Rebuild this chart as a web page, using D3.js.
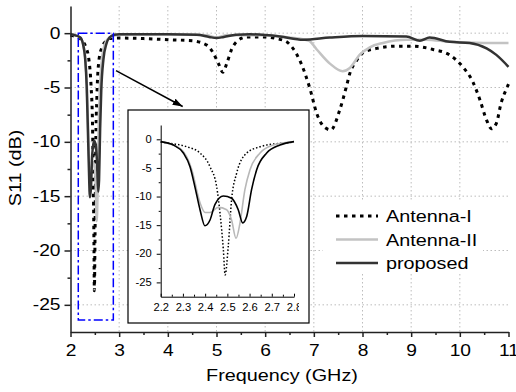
<!DOCTYPE html>
<html>
<head>
<meta charset="utf-8">
<script src="https://cdn.jsdelivr.net/npm/d3@7"></script>
<style>
  body { margin: 0; background: #fff; }
  svg text { font-family: "Liberation Sans", Arial, sans-serif; fill: #000; }
  .sx { transform-box: fill-box; transform: scaleX(1.2); }
  .sxi { transform-box: fill-box; transform: scaleX(1.12); }
</style>
</head>
<body>
<svg id="chart" width="516" height="392"></svg>
<script>
// [frequency GHz, S11 dB]
const antennaI = [
  [2.0, -0.2], [2.1, -0.3], [2.2, -0.5], [2.26, -0.8], [2.317, -1.3], [2.377, -2.4],
  [2.422, -4.8], [2.452, -8.3], [2.467, -12.9], [2.482, -19.3], [2.49, -23.7],
  [2.504, -18.7], [2.519, -10.6], [2.542, -5.9], [2.587, -2.4], [2.647, -1.3],
  [2.737, -0.7], [2.8, -0.5], [3.0, -0.45], [3.5, -0.5], [4.0, -0.6], [4.5, -0.7],
  [4.8, -1.1], [4.93, -1.8], [5.04, -2.8], [5.13, -3.6], [5.21, -2.8], [5.31, -1.5],
  [5.41, -0.8], [5.62, -0.35], [6.0, -0.35], [6.23, -0.5], [6.44, -0.8], [6.71, -2.5],
  [6.92, -5.1], [7.06, -7.4], [7.23, -8.7], [7.35, -8.9], [7.53, -7.1], [7.67, -4.9],
  [7.74, -3.7], [7.88, -2.5], [8.01, -1.8], [8.29, -1.4], [8.7, -1.2], [9.04, -1.2],
  [9.45, -1.5], [9.79, -2.0], [10.06, -3.1], [10.27, -4.5], [10.41, -6.1], [10.55, -8.0],
  [10.65, -8.8], [10.75, -8.3], [10.85, -6.4], [10.96, -5.1], [11.0, -4.7]
];
const antennaII = [
  [2.0, -0.1], [2.1, -0.2], [2.2, -0.4], [2.287, -1.6], [2.34, -5.3], [2.377, -11.1],
  [2.4, -12.8], [2.422, -12.8], [2.459, -11.9], [2.497, -12.3], [2.519, -14.1],
  [2.539, -17.3], [2.557, -14.6], [2.579, -8.8], [2.602, -5.3], [2.647, -2.4],
  [2.707, -1.0], [2.8, -0.4], [3.0, -0.15], [4.0, -0.1], [4.8, -0.2], [5.0, -0.4],
  [5.2, -0.2], [6.0, -0.2], [6.5, -0.4], [6.9, -0.7], [7.06, -1.5], [7.33, -2.8],
  [7.59, -3.5], [7.74, -3.2], [7.94, -2.0], [8.15, -1.3], [8.42, -0.9], [8.9, -0.6],
  [9.3, -0.6], [9.8, -0.8], [10.5, -0.9], [11.0, -0.9]
];
const proposed = [
  [2.0, -0.1], [2.1, -0.2], [2.2, -0.4], [2.257, -1.0], [2.302, -2.4], [2.332, -4.8],
  [2.354, -8.3], [2.377, -12.3], [2.399, -15.1], [2.422, -14.1], [2.444, -11.4],
  [2.482, -9.9], [2.519, -10.3], [2.549, -12.3], [2.569, -14.6], [2.587, -13.5],
  [2.609, -8.8], [2.632, -5.3], [2.677, -2.4], [2.737, -1.0], [2.8, -0.4], [2.9, -0.15],
  [3.0, -0.1], [4.0, -0.1], [4.6, -0.15], [4.85, -0.35], [5.0, -0.45], [5.15, -0.35],
  [5.4, -0.15], [5.69, -0.1], [6.3, -0.3], [6.78, -0.6], [7.33, -0.4], [8.0, -0.25],
  [8.9, -0.3], [9.18, -0.7], [9.38, -0.4], [9.79, -0.8], [10.2, -0.9], [10.55, -1.4],
  [10.75, -2.0], [11.0, -3.1]
];
const seriesNames = ['Antenna-I', 'Antenna-II', 'proposed'];
const xTicks = [2, 3, 4, 5, 6, 7, 8, 9, 10, 11];
const yTicks = [0, -5, -10, -15, -20, -25];
const insetXTicks = [2.2, 2.3, 2.4, 2.5, 2.6, 2.7, 2.8];
const zoomBand = [2.16, 2.88, 0, -26.4];      // blue box, GHz / dB
const arrowPts = [[2.935, -3.44], [4.305, -6.75]];

const svg = d3.select('#chart');

const x = d3.scaleLinear().domain([2, 11]).range([70.5, 508.5]);
const y = d3.scaleLinear().domain([-27.5, 2.5]).range([332, 6]);

const styles = [
  { stroke: '#000', width: 3, dash: '3.5,4.5' },
  { stroke: '#c3c3c3', width: 2.5, dash: null },
  { stroke: '#333', width: 2.5, dash: null }
];
const series = [antennaI, antennaII, proposed];

// grid
svg.append('g').selectAll('line').data(xTicks.filter(v => v > 2 && v < 11)).enter()
  .append('line')
  .attr('x1', d => x(d)).attr('x2', d => x(d))
  .attr('y1', y(2.5)).attr('y2', y(-27.5))
  .attr('stroke', '#bdbdbd').attr('stroke-dasharray', '1.5,2.5');
svg.append('g').selectAll('line').data(yTicks).enter()
  .append('line')
  .attr('x1', x(2)).attr('x2', x(11))
  .attr('y1', d => y(d)).attr('y2', d => y(d))
  .attr('stroke', '#bdbdbd').attr('stroke-dasharray', '1.5,2.5');

const line = d3.line().x(d => x(d[0])).y(d => y(d[1])).curve(d3.curveMonotoneX);
series.forEach((s, i) => {
  svg.append('path')
    .attr('d', line(s))
    .attr('fill', 'none')
    .attr('stroke', styles[i].stroke)
    .attr('stroke-width', styles[i].width)
    .attr('stroke-dasharray', styles[i].dash);
});

// blue zoom box
svg.append('rect')
  .attr('x', x(zoomBand[0])).attr('y', y(zoomBand[2]))
  .attr('width', x(zoomBand[1]) - x(zoomBand[0]))
  .attr('height', y(zoomBand[3]) - y(zoomBand[2]))
  .attr('fill', 'none').attr('stroke', '#0000ff').attr('stroke-width', 1.5)
  .attr('stroke-dasharray', '9,3,2.5,3');

// axes
function styleAxis(g, origin) {
  g.select('.domain').attr('stroke', '#222').attr('stroke-width', 1.5);
  g.selectAll('.tick line').attr('stroke', '#222').attr('stroke-width', 1.5);
  g.selectAll('text').attr('font-size', 16).attr('font-family', null)
    .attr('class', 'sx').style('transform-origin', origin);
}
const gx = svg.append('g').attr('transform', 'translate(0,332)')
  .call(d3.axisBottom(x).tickValues(xTicks).tickSize(5).tickSizeOuter(0)
    .tickPadding(8).tickFormat(d => String(d)));
styleAxis(gx, '50% 50%');
const gxm = svg.append('g').attr('transform', 'translate(0,332)')
  .call(d3.axisBottom(x).tickValues(d3.range(2.5, 11, 1)).tickSize(3).tickFormat(''));
gxm.select('.domain').remove();
gxm.selectAll('.tick line').attr('stroke', '#222').attr('stroke-width', 1.5);

const gy = svg.append('g').attr('transform', 'translate(70.5,0)')
  .call(d3.axisLeft(y).tickValues(yTicks).tickSize(6).tickSizeOuter(0)
    .tickPadding(4).tickFormat(d => String(d)));
styleAxis(gy, '100% 50%');
const gym = svg.append('g').attr('transform', 'translate(70.5,0)')
  .call(d3.axisLeft(y).tickValues(d3.range(-2.5, -25, -5)).tickSize(3).tickFormat(''));
gym.select('.domain').remove();
gym.selectAll('.tick line').attr('stroke', '#222').attr('stroke-width', 1.5);

svg.append('text').attr('class', 'sx').style('transform-origin', '50% 50%')
  .attr('x', 282).attr('y', 381).attr('text-anchor', 'middle')
  .attr('font-size', 16.5).text('Frequency (GHz)');
svg.append('text')
  .attr('transform', 'translate(21,168) rotate(-90) scale(1.2,1)')
  .attr('text-anchor', 'middle').attr('font-size', 16.5).text('S11 (dB)');

// legend
svg.append('rect').attr('x', 323).attr('y', 202).attr('width', 160).attr('height', 72)
  .attr('fill', '#fff');
const leg = svg.append('g').selectAll('g').data(seriesNames).enter().append('g')
  .attr('transform', (d, i) => `translate(336,${216 + i * 23.5})`);
leg.append('line').attr('x1', 0).attr('x2', 42)
  .attr('stroke', (d, i) => styles[i].stroke)
  .attr('stroke-width', (d, i) => styles[i].width)
  .attr('stroke-dasharray', (d, i) => styles[i].dash);
leg.append('text').attr('class', 'sx').style('transform-origin', '0% 50%')
  .attr('x', 50).attr('y', 6).attr('font-size', 16.5).text(d => d);

// arrow
const defs = svg.append('defs');
defs.append('marker').attr('id', 'arr').attr('viewBox', '0 0 10 7')
  .attr('refX', 10).attr('refY', 3.5).attr('markerWidth', 10).attr('markerHeight', 7)
  .attr('markerUnits', 'userSpaceOnUse').attr('orient', 'auto')
  .append('path').attr('d', 'M0,0L10,3.5L0,7Z').attr('fill', '#000');
svg.append('line')
  .attr('x1', x(arrowPts[0][0])).attr('y1', y(arrowPts[0][1]))
  .attr('x2', x(arrowPts[1][0])).attr('y2', y(arrowPts[1][1]))
  .attr('stroke', '#000').attr('stroke-width', 1.5).attr('marker-end', 'url(#arr)');

// inset
svg.append('rect').attr('x', 128).attr('y', 110).attr('width', 181).attr('height', 213)
  .attr('fill', '#fff').attr('stroke', '#000').attr('stroke-width', 1.2);
defs.append('clipPath').attr('id', 'insetClip')
  .append('rect').attr('x', 128).attr('y', 110).attr('width', 171).attr('height', 213);

const ix = d3.scaleLinear().domain([2.2, 2.8]).range([160.7, 294]);
const iy = d3.scaleLinear().domain([-27.5, 2.5]).range([296.7, 125]);
const iline = d3.line().x(d => ix(d[0])).y(d => iy(d[1])).curve(d3.curveMonotoneX);
const istyles = [
  { stroke: '#000', width: 1.5, dash: '1.5,2' },
  { stroke: '#b8b8b8', width: 1.6, dash: null },
  { stroke: '#000', width: 1.6, dash: null }
];
series.forEach((s, i) => {
  svg.append('path')
    .attr('d', iline(s.filter(d => d[0] >= 2.2 && d[0] <= 2.8)))
    .attr('fill', 'none')
    .attr('stroke', istyles[i].stroke)
    .attr('stroke-width', istyles[i].width)
    .attr('stroke-dasharray', istyles[i].dash);
});

function styleInset(g, origin) {
  g.select('.domain').attr('stroke', '#000').attr('stroke-width', 1);
  g.selectAll('.tick line').attr('stroke', '#000');
  g.selectAll('text').attr('font-size', 10).attr('font-family', null)
    .attr('class', 'sxi').style('transform-origin', origin);
}
const igx = svg.append('g').attr('clip-path', 'url(#insetClip)')
  .append('g').attr('transform', 'translate(0,296.7)')
  .call(d3.axisBottom(ix).tickValues(insetXTicks).tickSize(-3).tickSizeOuter(0)
    .tickPadding(7).tickFormat(d => d.toFixed(1)));
styleInset(igx, '50% 50%');
const igxm = svg.append('g').attr('transform', 'translate(0,296.7)')
  .call(d3.axisBottom(ix).tickValues(d3.range(2.25, 2.8, 0.1)).tickSize(-2).tickFormat(''));
igxm.select('.domain').remove();
igxm.selectAll('.tick line').attr('stroke', '#000');

const igy = svg.append('g').attr('transform', 'translate(160.7,0)')
  .call(d3.axisLeft(iy).tickValues(yTicks).tickSize(4).tickSizeOuter(0)
    .tickPadding(5).tickFormat(d => String(d)));
styleInset(igy, '100% 50%');
const igym = svg.append('g').attr('transform', 'translate(160.7,0)')
  .call(d3.axisLeft(iy).tickValues(d3.range(-2.5, -25, -5)).tickSize(2).tickFormat(''));
igym.select('.domain').remove();
igym.selectAll('.tick line').attr('stroke', '#000');
</script>
</body>
</html>
